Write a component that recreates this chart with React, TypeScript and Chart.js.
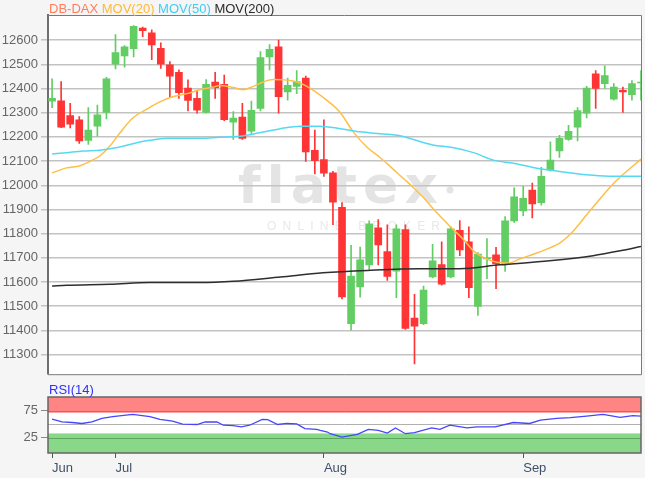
import React, { useEffect, useRef } from "react";
import { Chart, registerables } from "chart.js";

Chart.register(...registerables);

const FONT = '"Liberation Sans", Arial, Helvetica, sans-serif';
const LOGO_FONT = '"DejaVu Sans", "Liberation Sans", sans-serif';

// ---- categories (trading days) ----
const dates = [
  "2019-06-20", "2019-06-21", "2019-06-24", "2019-06-25", "2019-06-26", "2019-06-27", "2019-06-28",
  "2019-07-01", "2019-07-02", "2019-07-03", "2019-07-04", "2019-07-05", "2019-07-08", "2019-07-09",
  "2019-07-10", "2019-07-11", "2019-07-12", "2019-07-15", "2019-07-16", "2019-07-17", "2019-07-18",
  "2019-07-19", "2019-07-22", "2019-07-23", "2019-07-24", "2019-07-25", "2019-07-26", "2019-07-29",
  "2019-07-30", "2019-07-31",
  "2019-08-01", "2019-08-02", "2019-08-05", "2019-08-06", "2019-08-07", "2019-08-08", "2019-08-09",
  "2019-08-12", "2019-08-13", "2019-08-14", "2019-08-15", "2019-08-16", "2019-08-19", "2019-08-20",
  "2019-08-21", "2019-08-22", "2019-08-23", "2019-08-26", "2019-08-27", "2019-08-28", "2019-08-29",
  "2019-08-30",
  "2019-09-02", "2019-09-03", "2019-09-04", "2019-09-05", "2019-09-06", "2019-09-09", "2019-09-10",
  "2019-09-11", "2019-09-12", "2019-09-13", "2019-09-16", "2019-09-17", "2019-09-18", "2019-09-19",
];

// ---- DB-DAX candles ----
const open = [
  12348, 12349, 12288, 12271, 12186, 12244, 12301, 12501, 12535, 12565,
  12650, 12630, 12566, 12498, 12467, 12402, 12359, 12301, 12427, 12417,
  12261, 12282, 12224, 12318, 12531, 12572, 12386, 12409, 12443, 12145,
  12106, 12051, 11909, 11428, 11580, 11671, 11824, 11726, 11645, 11817,
  11451, 11428, 11621, 11672, 11621, 11814, 11766, 11499, 11696, 11713,
  11675, 11853, 11894, 11980, 11928, 12064, 12142, 12190, 12240, 12298,
  12461, 12420, 12356, 12393, 12375, 12423,
];
const high = [
  12440, 12429, 12339, 12284, 12321, 12332, 12446, 12623, 12578, 12660,
  12654, 12643, 12589, 12511, 12477, 12436, 12393, 12437, 12467, 12456,
  12305, 12339, 12348, 12553, 12582, 12600, 12443, 12474, 12451, 12228,
  12271, 12058, 11928, 11752, 11745, 11853, 11858, 11837, 11837, 11837,
  11549, 11583, 11756, 11766, 11828, 11854, 11828, 11722, 11780, 11743,
  11871, 11989, 11996, 12009, 12074, 12180, 12207, 12248, 12321, 12409,
  12474, 12494, 12420, 12406, 12433, 12474,
];
const low = [
  12321, 12238, 12237, 12173, 12169, 12203, 12274, 12481, 12488, 12531,
  12614, 12519, 12483, 12366, 12359, 12307, 12298, 12298, 12359, 12267,
  12190, 12190, 12210, 12307, 12477, 12298, 12352, 12379, 12099, 12047,
  12037, 11837, 11530, 11401, 11537, 11652, 11671, 11607, 11535, 11404,
  11262, 11424, 11617, 11587, 11617, 11709, 11535, 11462, 11614, 11573,
  11644, 11847, 11874, 11865, 11918, 12058, 12115, 12186, 12183, 12278,
  12318, 12400, 12352, 12301, 12352, 12352,
];
const close = [
  12359, 12240, 12253, 12183, 12228, 12291, 12440, 12549, 12572, 12657,
  12639, 12580, 12501, 12451, 12383, 12351, 12311, 12417, 12404, 12271,
  12278, 12194, 12310, 12528, 12562, 12366, 12413, 12429, 12138, 12102,
  12050, 11930, 11539, 11625, 11692, 11841, 11753, 11623, 11820, 11408,
  11418, 11567, 11688, 11591, 11820, 11733, 11577, 11716, 11700, 11675,
  11853, 11952, 11946, 11923, 12037, 12104, 12194, 12223, 12309, 12402,
  12400, 12454, 12406, 12386, 12420, 12427,
];

// ---- moving averages (position in trading days, value) ----
const mov20X = [0, 1.6, 3.1, 4.2, 5.3, 6.4, 7.5, 8.9, 10.5, 11.9, 13.3, 14.9, 16.3, 17.8, 18.5, 20, 21.1, 22.2, 23.3, 24.4, 25.5, 26.6, 27.7, 28.8, 30.3, 31.8, 33.2, 34.8, 36.2, 37.6, 39.2, 39.8, 40.9, 42.5, 43.9, 45.4, 46.5, 47.6, 49.1, 50.5, 51.6, 53.1, 54.6, 56.1, 57.5, 59.0, 60.5, 61.6, 62.7, 65];
const mov20Y = [12051, 12072, 12081, 12099, 12122, 12163, 12217, 12278, 12316, 12345, 12366, 12379, 12395, 12406, 12413, 12404, 12395, 12409, 12427, 12437, 12436, 12431, 12417, 12393, 12352, 12301, 12223, 12156, 12115, 12068, 12014, 11993, 11953, 11885, 11831, 11776, 11729, 11702, 11682, 11679, 11695, 11715, 11736, 11763, 11810, 11878, 11945, 11993, 12034, 12108];

const mov50X = [0, 1.6, 3.4, 5.3, 7.2, 8.9, 10.8, 12.7, 16.3, 18.5, 20.7, 22.9, 25.2, 27.4, 29.6, 31.8, 34, 36.2, 38.4, 39.8, 42.0, 44.2, 46.5, 48.7, 50.9, 53.1, 55.3, 57.5, 59.7, 61.9, 65];
const mov50Y = [12129, 12135, 12142, 12145, 12156, 12172, 12186, 12194, 12194, 12199, 12203, 12217, 12234, 12244, 12244, 12234, 12221, 12213, 12205, 12190, 12167, 12156, 12135, 12104, 12091, 12074, 12061, 12050, 12041, 12037, 12037];

const mov200X = [0, 1.6, 6.4, 10.8, 16.3, 20, 25.2, 29.9, 34.8, 40.6, 45, 49.4, 54.9, 59.7, 62.7, 65];
const mov200Y = [11584, 11587, 11591, 11598, 11598, 11603, 11621, 11638, 11648, 11655, 11655, 11671, 11688, 11709, 11729, 11747];

// ---- RSI(14) ----
const rsiX = [0, 1.1, 2.2, 3.3, 4.4, 5.5, 6.7, 8.9, 10.8, 11.9, 13.3, 14.4, 16, 16.9, 18.2, 18.9, 20, 20.9, 21.8, 23.2, 23.8, 24.9, 25.9, 27, 27.9, 29.2, 29.6, 30.4, 30.7, 32, 33.7, 34.9, 36, 37, 37.9, 39, 40, 41.9, 42.8, 43.9, 45.8, 46.9, 48.9, 50.9, 52.7, 53.9, 55.7, 57.2, 59, 60.8, 62.7, 64.1, 65];
const rsiY = [59.4, 54.4, 53.1, 51.3, 54.4, 60.7, 63.8, 68.2, 63.8, 58.8, 55.6, 50, 49.4, 54.4, 54, 48.1, 47.5, 45, 48.1, 58.8, 58.3, 49.4, 51.3, 50.6, 41.9, 40.6, 38.7, 35.6, 32.5, 26.2, 31.2, 40.6, 38.7, 33.7, 43.1, 32.5, 34.3, 43.1, 40.6, 48.1, 43.1, 45, 45, 53.1, 51.3, 57.5, 60.7, 61.9, 65, 68.2, 62.5, 65.7, 65];

// ---- axes ----
const priceTicks = [11300, 11400, 11500, 11600, 11700, 11800, 11900, 12000, 12100, 12200, 12300, 12400, 12500, 12600];
const priceMin = 11219;
const priceMax = 12704;
const rsiTicks = [75, 25];
const rsiMin = -3;
const rsiMax = 100;
const rsiUpperZone = [71, 100];
const rsiLowerZone = [rsiMin, 33];
const rsiLevels = [75, 50, 25];
const monthTicks = [
  { label: "Jun", date: "2019-06-20" },
  { label: "Jul", date: "2019-07-01" },
  { label: "Aug", date: "2019-08-01" },
  { label: "Sep", date: "2019-09-02" },
];
const xMin = -0.45;
const xMax = 65;

const GREEN = "#62cd62";
const RED = "#ff3434";
const legendItems: [string, string][] = [
  ["DB-DAX", "#ff7d5c"],
  ["MOV(20)", "#ffb838"],
  ["MOV(50)", "#40ccf2"],
  ["MOV(200)", "#2a2a2a"],
];

const mainPlugin = {
  id: "mainDeco",
  beforeDraw(chart: any) {
    const { ctx, chartArea: a } = chart;
    ctx.save();
    ctx.fillStyle = "#ffffff";
    ctx.fillRect(a.left, a.top, a.right - a.left, a.bottom - a.top);
    // watermark
    ctx.fillStyle = "#e4e4e4";
    ctx.font = `bold 52px ${LOGO_FONT}`;
    ctx.textBaseline = "alphabetic";
    const word = "flatex";
    const widths = word.split("").map((c) => ctx.measureText(c).width);
    const total = widths.reduce((s, w) => s + w, 0);
    const span = 200;
    const gap = (span - total) / (word.length - 1);
    let x = 238;
    word.split("").forEach((c, i) => {
      ctx.fillText(c, x, 203);
      x += widths[i] + gap;
    });
    ctx.beginPath();
    ctx.arc(450, 190, 3.5, 0, Math.PI * 2);
    ctx.fill();
    ctx.fillStyle = "#e8e8e8";
    ctx.font = `12px ${FONT}`;
    const sub = "ONLINE BROKER";
    const sw = sub.split("").map((c) => ctx.measureText(c).width);
    const st = sw.reduce((s, w) => s + w, 0);
    const sg = (173 - st) / (sub.length - 1);
    let sx = 267;
    sub.split("").forEach((c, i) => {
      ctx.fillText(c, sx, 230);
      sx += sw[i] + sg;
    });
    ctx.restore();
  },
  afterDraw(chart: any) {
    const { ctx, chartArea: a } = chart;
    ctx.save();
    ctx.strokeStyle = "#7a7a7a";
    ctx.lineWidth = 1;
    ctx.beginPath();
    ctx.moveTo(a.left, a.top + 0.5);
    ctx.lineTo(a.right + 0.5, a.top + 0.5);
    ctx.lineTo(a.right + 0.5, a.bottom + 0.5);
    ctx.lineTo(a.left, a.bottom + 0.5);
    ctx.stroke();
    ctx.font = `13px ${FONT}`;
    ctx.textBaseline = "alphabetic";
    let x = 49;
    const space = ctx.measureText(" ").width;
    legendItems.forEach(([t, c]) => {
      ctx.fillStyle = c;
      ctx.fillText(t, x, 13);
      x += ctx.measureText(t).width + space;
    });
    ctx.restore();
  },
};

const rsiPlugin = {
  id: "rsiDeco",
  beforeDraw(chart: any) {
    const { ctx, chartArea: a } = chart;
    ctx.save();
    ctx.fillStyle = "#ffffff";
    ctx.fillRect(a.left, a.top, a.right - a.left, a.bottom - a.top);
    ctx.restore();
  },
  beforeDatasetsDraw(chart: any) {
    const { ctx, chartArea: a } = chart;
    const y = chart.scales.y;
    ctx.save();
    ctx.fillStyle = "#ff8585";
    let t = y.getPixelForValue(rsiUpperZone[1]);
    let b = y.getPixelForValue(rsiUpperZone[0]);
    ctx.fillRect(a.left, t, a.right - a.left, b - t);
    ctx.fillStyle = "#89d889";
    t = y.getPixelForValue(rsiLowerZone[1]);
    b = y.getPixelForValue(rsiLowerZone[0]);
    ctx.fillRect(a.left, t, a.right - a.left, b - t);
    const lineColors = ["#d86060", "#b0b0b0", "#5aa85a"];
    rsiLevels.forEach((lv, i) => {
      const py = Math.round(y.getPixelForValue(lv)) + 0.5;
      ctx.strokeStyle = lineColors[i];
      ctx.lineWidth = 1;
      ctx.beginPath();
      ctx.moveTo(a.left, py);
      ctx.lineTo(a.right, py);
      ctx.stroke();
    });
    ctx.restore();
  },
  afterDraw(chart: any) {
    const { ctx, chartArea: a } = chart;
    ctx.save();
    ctx.strokeStyle = "#666666";
    ctx.lineWidth = 1.5;
    ctx.strokeRect(a.left, a.top, a.right - a.left, a.bottom - a.top);
    ctx.fillStyle = "#2f2fff";
    ctx.font = `13px ${FONT}`;
    ctx.textBaseline = "alphabetic";
    ctx.fillText("RSI(14)", 49, 12.5);
    ctx.restore();
  },
};

export default function App() {
  const mainRef = useRef<HTMLCanvasElement>(null);
  const rsiRef = useRef<HTMLCanvasElement>(null);

  useEffect(() => {
    const colors = dates.map((_, i) => (close[i] >= open[i] ? GREEN : RED));
    const bodies = dates.map((_, i) => ({ x: i, y: [open[i], close[i]] }));
    const wicks = dates.map((_, i) => ({ x: i, y: [low[i], high[i]] }));
    const tickFont = { family: FONT, size: 13 };

    const main = new Chart(mainRef.current!, {
      type: "bar",
      data: {
        datasets: [
          {
            type: "line",
            label: "MOV(200)",
            data: mov200X.map((x, i) => ({ x, y: mov200Y[i] })),
            borderColor: "#2e2e2e",
            borderWidth: 1.5,
            pointRadius: 0,
            cubicInterpolationMode: "monotone",
            order: 0,
          } as any,
          {
            type: "line",
            label: "MOV(50)",
            data: mov50X.map((x, i) => ({ x, y: mov50Y[i] })),
            borderColor: "#55d9f3",
            borderWidth: 1.5,
            pointRadius: 0,
            cubicInterpolationMode: "monotone",
            order: 0,
          },
          {
            type: "line",
            label: "MOV(20)",
            data: mov20X.map((x, i) => ({ x, y: mov20Y[i] })),
            borderColor: "#ffbf47",
            borderWidth: 1.5,
            pointRadius: 0,
            cubicInterpolationMode: "monotone",
            order: 0,
          },
          {
            type: "bar",
            label: "body",
            data: bodies,
            backgroundColor: colors,
            barThickness: 7,
            minBarLength: 1,
            grouped: false,
            order: 1,
          },
          {
            type: "bar",
            label: "wick",
            data: wicks,
            backgroundColor: colors,
            barThickness: 1,
            grouped: false,
            order: 2,
          },
        ] as any,
      },
      options: {
        animation: false,
        responsive: false,
        maintainAspectRatio: false,
        layout: { padding: { top: 15, right: 4, bottom: 4, left: 0 } },
        plugins: { legend: { display: false }, tooltip: { enabled: false } },
        scales: {
          x: { type: "linear", min: xMin, max: xMax, offset: false, display: false },
          y: {
            type: "linear",
            min: priceMin,
            max: priceMax,
            afterFit: (s: any) => {
              s.width = 48;
            },
            afterBuildTicks: (s: any) => {
              s.ticks = priceTicks.map((v) => ({ value: v }));
            },
            grid: { color: "#c3c3c3", lineWidth: 1.5, tickLength: 7, tickColor: "#c3c3c3" },
            border: { color: "#6e6e6e", width: 2 },
            ticks: {
              padding: 3,
              color: "#666666",
              font: tickFont,
              callback: (v: any) => String(v),
            },
          },
        },
      } as any,
      plugins: [mainPlugin],
    });

    const rsi = new Chart(rsiRef.current!, {
      type: "line",
      data: {
        datasets: [
          {
            label: "RSI(14)",
            data: rsiX.map((x, i) => ({ x, y: rsiY[i] })),
            borderColor: "#4646ff",
            borderWidth: 1.3,
            pointRadius: 0,
            tension: 0,
          },
        ],
      },
      options: {
        animation: false,
        responsive: false,
        maintainAspectRatio: false,
        layout: { padding: { top: 16, right: 4, bottom: 0, left: 0 } },
        plugins: { legend: { display: false }, tooltip: { enabled: false } },
        scales: {
          x: {
            type: "linear",
            min: xMin,
            max: xMax,
            offset: false,
            afterFit: (s: any) => {
              s.height = 25;
            },
            afterBuildTicks: (s: any) => {
              s.ticks = monthTicks.map((m) => ({ value: dates.indexOf(m.date) }));
            },
            ticks: {
              autoSkip: false,
              maxRotation: 0,
              align: "start",
              padding: 3,
              color: "#3f5068",
              font: tickFont,
              callback: (v: any) => {
                const m = monthTicks.find((mm) => dates.indexOf(mm.date) === v);
                return m ? m.label : "";
              },
            },
            grid: { drawOnChartArea: false, drawTicks: true, tickLength: 5, tickColor: "#555555" },
            border: { display: false },
          },
          y: {
            type: "linear",
            min: rsiMin,
            max: rsiMax,
            afterFit: (s: any) => {
              s.width = 48;
            },
            afterBuildTicks: (s: any) => {
              s.ticks = rsiTicks.map((v) => ({ value: v }));
            },
            grid: { drawOnChartArea: false, tickLength: 7, tickColor: "#888888" },
            border: { display: false },
            ticks: { padding: 3, color: "#666666", font: tickFont },
          },
        },
      } as any,
      plugins: [rsiPlugin],
    });

    return () => {
      main.destroy();
      rsi.destroy();
    };
  }, []);

  return (
    <div
      style={{
        position: "absolute",
        left: 0,
        top: 0,
        width: 645,
        height: 478,
        background: "#f5f5f5",
        overflow: "hidden",
      }}
    >
      <canvas
        ref={mainRef}
        width={645}
        height={385}
        style={{ position: "absolute", left: 0, top: 0, width: 645, height: 385 }}
      />
      <canvas
        ref={rsiRef}
        width={645}
        height={97}
        style={{ position: "absolute", left: 0, top: 381, width: 645, height: 97 }}
      />
    </div>
  );
}
